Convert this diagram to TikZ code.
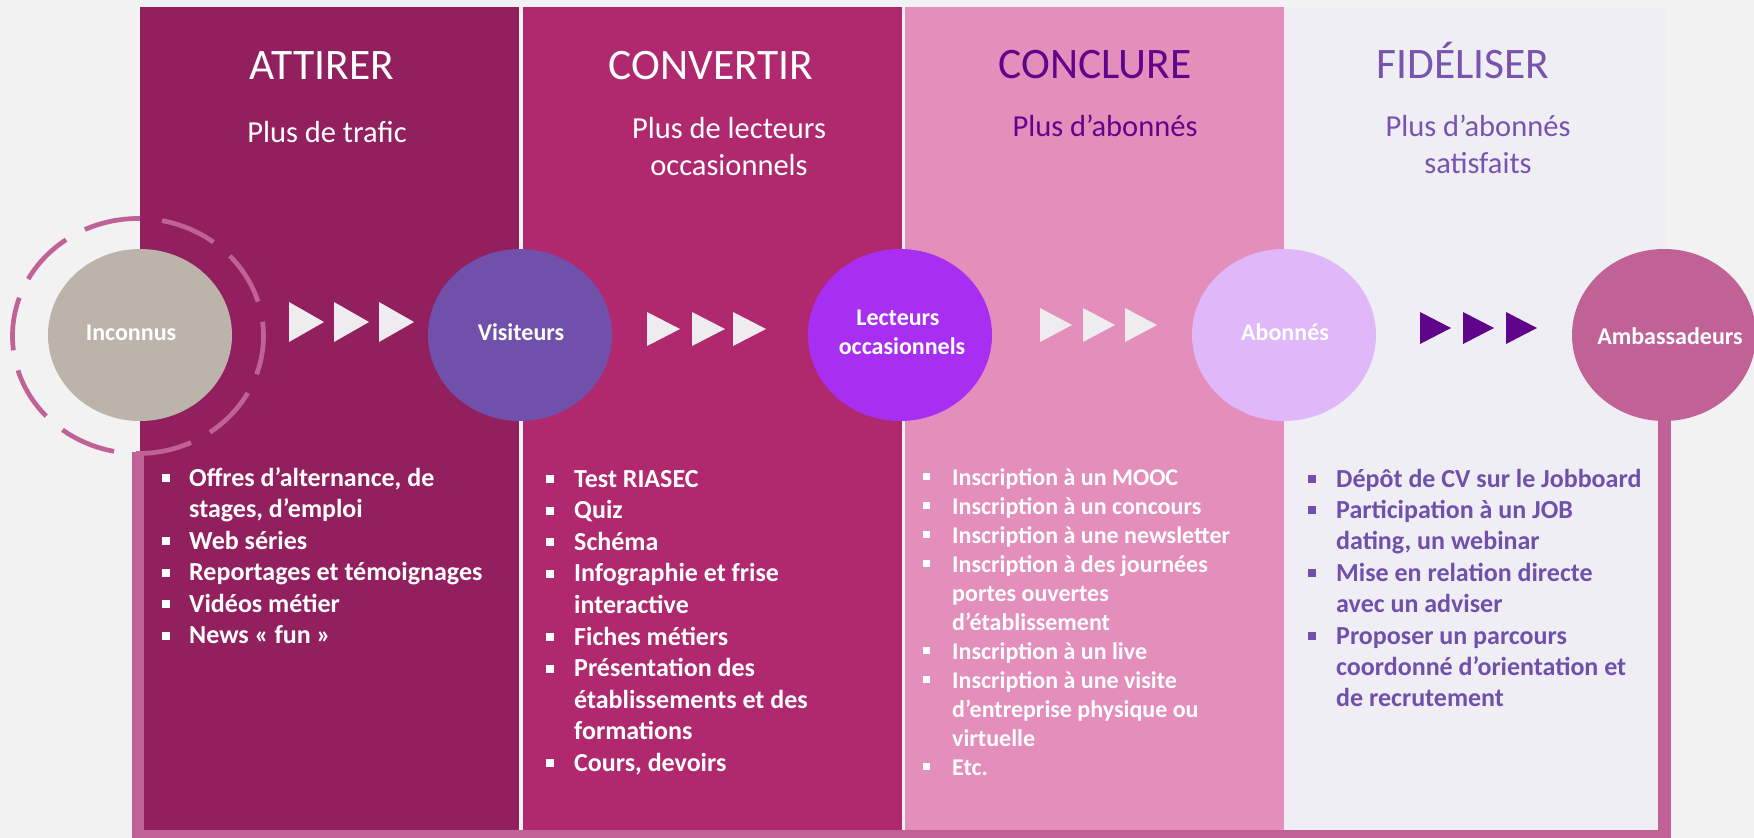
\documentclass[tikz,border=0pt]{standalone}
\usepackage{fontspec}
\setmainfont{Carlito}
\usetikzlibrary{shapes.geometric}
\definecolor{bgc}{RGB}{242,242,242}
\definecolor{pa}{RGB}{147,32,94}
\definecolor{pb}{RGB}{176,40,110}
\definecolor{pc}{RGB}{228,142,187}
\definecolor{pd}{RGB}{239,238,245}
\definecolor{frc}{RGB}{192,98,150}
\definecolor{incc}{RGB}{188,180,170}
\definecolor{visc}{RGB}{112,80,170}
\definecolor{lecc}{RGB}{168,46,242}
\definecolor{aboc}{RGB}{224,184,250}
\definecolor{tril}{RGB}{238,236,238}
\definecolor{dpur}{RGB}{96,4,140}
\definecolor{mpur}{RGB}{120,84,175}
\definecolor{lpur}{RGB}{112,80,170}
\begin{document}
\begin{tikzpicture}[x=1pt,y=-1pt,
  title/.style={font=\fontsize{43.5}{52}\selectfont, anchor=base, inner sep=0},
  sub/.style={font=\fontsize{30.5}{37}\selectfont, anchor=base, inner sep=0},
  circ/.style={ellipse, minimum width=184pt, minimum height=172pt, inner sep=0, draw=none},
  lbl/.style={font=\bfseries\fontsize{24}{29}\selectfont, text=white, anchor=base, inner sep=0},
  item/.style={font=\bfseries\fontsize{26}{31}\selectfont, anchor=base west, inner sep=0},
  itemsm/.style={font=\bfseries\fontsize{24}{29}\selectfont, anchor=base west, inner sep=0},
  ring/.style={frc, line width=4.7pt}
]
\useasboundingbox (0,0) rectangle (1754,838);
\fill[bgc] (0,0) rectangle (1754,838);
% panels
\fill[pa] (140,7) rectangle (519,831);
\fill[pb] (523,7) rectangle (902,831);
\fill[pc] (905,7) rectangle (1284,831);
\fill[pd] (1284,7) rectangle (1665,831);
% frame bars
\fill[frc] (132,452) rectangle (144,838);
\fill[frc] (132,830) rectangle (1671,838);
\fill[frc] (1658,421) rectangle (1671,838);
% titles
\node[title, text=white] (t1) at (322,79) {ATTIRER};
\node[title, text=white] (t2) at (711,79) {CONVERTIR};
\node[title, text=dpur] (t3) at (1095,78) {CONCLURE};
\node[title, text=mpur] (t4) at (1463,78) {FIDÉLISER};
\node[sub, text=white] (s1) at (327,142) {Plus de trafic};
\node[sub, text=white] (s2a) at (729,138) {Plus de lecteurs};
\node[sub, text=white] (s2b) at (729,175) {occasionnels};
\node[sub, text=dpur] (s3) at (1105,136) {Plus d’abonnés};
\node[sub, text=mpur] (s4a) at (1478,136) {Plus d’abonnés};
\node[sub, text=mpur] (s4b) at (1478,173) {satisfaits};
% dashed ring
\coordinate (ringc) at (138,336);
\foreach \a in {17,53,...,341}
  \draw[ring] (ringc) ++(-\a:125.5 and 117.5) arc[start angle=-\a, end angle={-\a-26}, x radius=125.5, y radius=117.5];
% circles
\node[circ, fill=incc] (inc) at (140,335) {};
\node[circ, fill=visc] (vis) at (520,335) {};
\node[circ, fill=lecc] (lec) at (900,335) {};
\node[circ, fill=aboc] (abo) at (1284,335) {};
\node[circ, fill=frc] (amb) at (1664,335) {};
\node[lbl] (incT) at (131,340) {Inconnus};
\node[lbl] (visT) at (521,340) {Visiteurs};
\node[lbl] (lecT1) at (898,325) {Lecteurs};
\node[lbl] (lecT2) at (902,354) {occasionnels};
\node[lbl] (aboT) at (1285,340) {Abonnés};
\node[lbl] (ambT) at (1670,344) {Ambassadeurs};
% triangles
\foreach \x in {289,334,379} \fill[tril] (\x,302) -- (\x+35,322) -- (\x,342) -- cycle;
\foreach \x in {647,692,733} \fill[tril] (\x,312) -- (\x+33,329) -- (\x,346) -- cycle;
\foreach \x in {1040,1083,1125} \fill[tril] (\x,308) -- (\x+32,325) -- (\x,342) -- cycle;
\foreach \x in {1420,1463,1506} \fill[dpur] (\x,312) -- (\x+31,328) -- (\x,344) -- cycle;
% lists
\foreach \b/\t [count=\i from 0] in {1/{Offres d’alternance, de}, 0/{stages, d’emploi}, 1/{Web séries}, 1/{Reportages et témoignages}, 1/{Vidéos métier}, 1/{News « fun »}}{
  \node[item, text=white] (la\i) at (189,486+31.5*\i) {\t};
  \ifnum\b=1 \fill[white] (162,482+31.5*\i) rectangle ++(7.5,-8); \fi
}
\foreach \b/\t [count=\i from 0] in {1/{Test RIASEC}, 1/{Quiz}, 1/{Schéma}, 1/{Infographie et frise}, 0/{interactive}, 1/{Fiches métiers}, 1/{Présentation des}, 0/{établissements et des}, 0/{formations}, 1/{Cours, devoirs}}{
  \node[item, text=white] (lb\i) at (574,487+31.6*\i) {\t};
  \ifnum\b=1 \fill[white] (546,483+31.6*\i) rectangle ++(7.5,-8); \fi
}
\foreach \b/\t [count=\i from 0] in {1/{Inscription à un MOOC}, 1/{Inscription à un concours}, 1/{Inscription à une newsletter}, 1/{Inscription à des journées}, 0/{portes ouvertes}, 0/{d’établissement}, 1/{Inscription à un live}, 1/{Inscription à une visite}, 0/{d’entreprise physique ou}, 0/{virtuelle}, 1/{Etc.}}{
  \node[itemsm, text=white] (lc\i) at (952,485+29*\i) {\t};
  \ifnum\b=1 \fill[white] (923,480+29*\i) rectangle ++(7,-7); \fi
}
\foreach \b/\t [count=\i from 0] in {1/{Dépôt de CV sur le Jobboard}, 1/{Participation à un JOB}, 0/{dating, un webinar}, 1/{Mise en relation directe}, 0/{avec un adviser}, 1/{Proposer un parcours}, 0/{coordonné d’orientation et}, 0/{de recrutement}}{
  \node[item, text=lpur] (ld\i) at (1336,487+31.4*\i) {\t};
  \ifnum\b=1 \fill[lpur] (1308,483+31.4*\i) rectangle ++(7.5,-8); \fi
}
\end{tikzpicture}
\end{document}
